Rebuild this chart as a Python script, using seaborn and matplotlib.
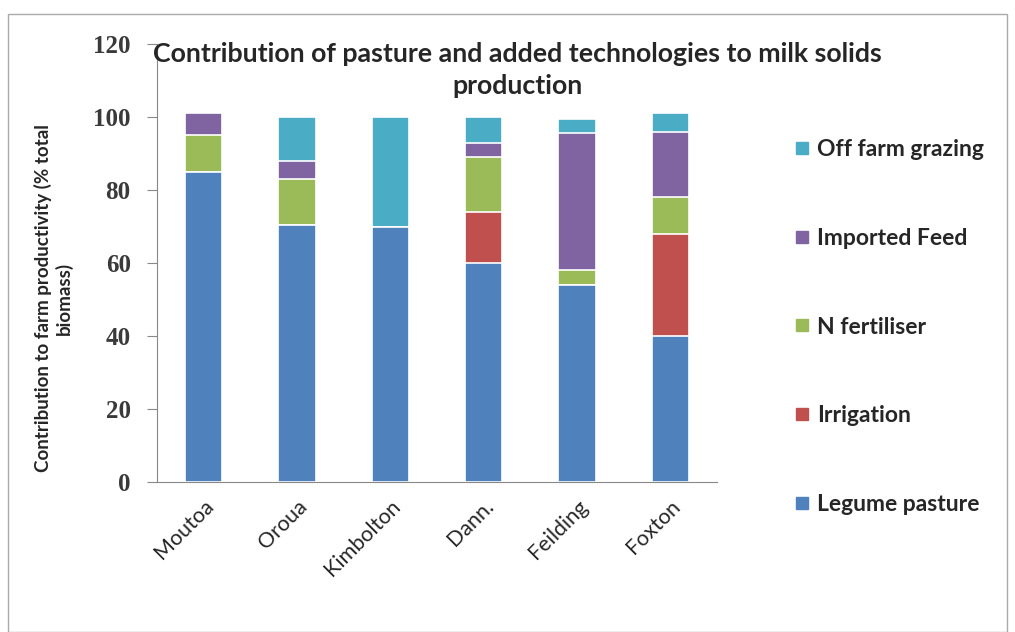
import numpy as np
import pandas as pd
import matplotlib
matplotlib.use("Agg")
import matplotlib.pyplot as plt
from matplotlib.lines import Line2D
from matplotlib.patches import Rectangle
import seaborn as sns

# data
farms = ["Moutoa", "Oroua", "Kimbolton", "Dann.", "Feilding", "Foxton"]
series = ["Legume pasture", "Irrigation", "N fertiliser", "Imported Feed", "Off farm grazing"]
legume = [85, 70.5, 70, 60, 54, 40]
irrigation = [0, 0, 0, 14, 0, 28]
n_fert = [10, 12.5, 0, 15, 4, 10]
imported = [6, 5, 0, 4, 37.5, 18]
off_farm = [0, 12, 30, 7, 4, 5]
colors = ["#4F81BD", "#C0504D", "#9BBB59", "#8064A2", "#4BACC6"]

df = pd.DataFrame({"farm": farms, "Legume pasture": legume, "Irrigation": irrigation,
                   "N fertiliser": n_fert, "Imported Feed": imported,
                   "Off farm grazing": off_farm})
cum = df[series].cumsum(axis=1)
cum["farm"] = farms

sns.set_style("white")
fig = plt.figure(figsize=(10.15, 6.32), dpi=100)
ax = fig.add_axes([0.1547, 0.2373, 0.5517, 0.693])

# stacked bars: draw cumulative totals from the top series down
for name, col in reversed(list(zip(series, colors))):
    sns.barplot(data=cum, x="farm", y=name, color=col, width=0.4,
                edgecolor="white", linewidth=1.2, ax=ax, saturation=1)

ax.set_ylim(0, 120)
ax.set_xlim(-0.5, 5.5)
ax.set_yticks(range(0, 121, 20))
ax.set_yticklabels([str(v) for v in range(0, 121, 20)],
                   fontsize=18, family="Liberation Serif", fontweight="bold",
                   color="#3a3a3a")
ax.set_xticks(range(len(farms)))
ax.set_xticklabels(farms, rotation=45, ha="right", rotation_mode="anchor",
                   fontsize=15.5, family="Lato")
ax.set_xticks(np.arange(-0.5, 6, 1), minor=True)
ax.tick_params(axis="x", which="major", length=0, pad=10)
ax.tick_params(axis="x", which="minor", length=8, color="#888888", direction="out")
ax.tick_params(axis="y", length=7, color="#888888", direction="out", left=True, pad=12)
for s in ["top", "right"]:
    ax.spines[s].set_visible(False)
for s in ["left", "bottom"]:
    ax.spines[s].set_color("#888888")
ax.set_xlabel("")
ax.set_ylabel("Contribution to farm productivity (% total\nbiomass)",
              fontsize=13.5, fontweight="bold", family="Lato")
ax.yaxis.set_label_coords(-0.15, 0.42)

fig.text(517 / 1015, 1 - 70 / 632,
         "Contribution of pasture and added technologies to milk solids\nproduction",
         ha="center", va="center", fontsize=19.3, fontweight="bold", family="Lato",
         linespacing=1.35)

handles = [Line2D([], [], marker="s", linestyle="", color=c, markersize=9)
           for c in colors]
fig.legend(handles[::-1], series[::-1], loc="center left",
           bbox_to_anchor=(770 / 1015, 1 - 327 / 632), frameon=False,
           prop={"family": "Lato", "size": 16.5, "weight": "bold"}, labelspacing=2.95,
           handletextpad=0.15, handlelength=1.0)

fig.patches.append(Rectangle((8 / 1015, 0), 999 / 1015, 1 - 14 / 632,
                             transform=fig.transFigure, fill=False,
                             edgecolor="#aaaaaa", linewidth=1))

fig.savefig("out.png", dpi=100)
